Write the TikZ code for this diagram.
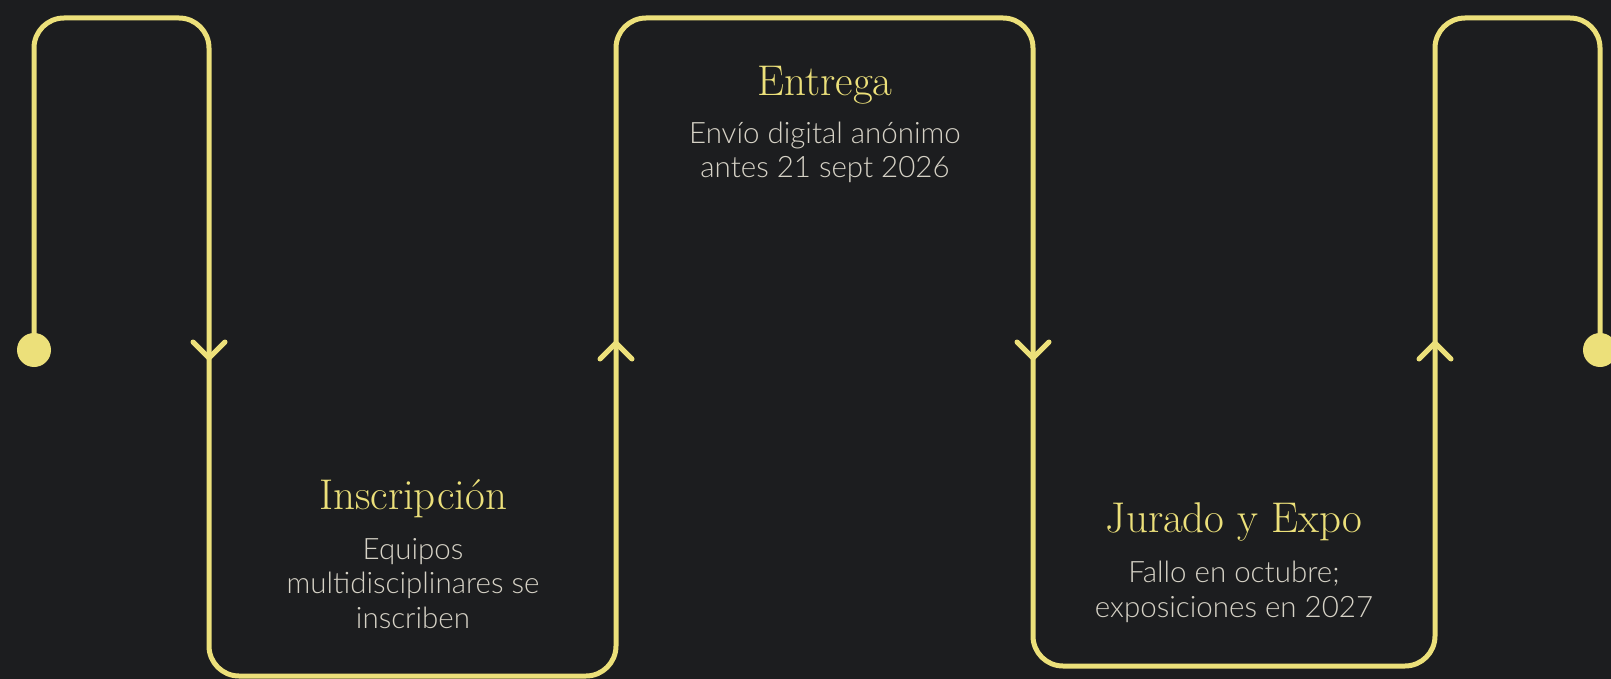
\documentclass[tikz,border=0pt]{standalone}
\usepackage{fontspec}
\newfontfamily\bodyfont{Lato}[UprightFont=* Light]
\usetikzlibrary{calc}
\definecolor{bg}{RGB}{28,29,31}
\definecolor{gold}{RGB}{236,224,122}
\definecolor{txt}{RGB}{214,210,198}
\begin{document}
\begin{tikzpicture}[x=1pt,y=-1pt,
  trail/.style={draw=gold,line width=5pt,rounded corners=30pt},
  chev/.style={draw=gold,line width=5pt,line cap=round,line join=round},
  dot/.style={circle,fill=gold,minimum size=34pt,inner sep=0pt},
  title/.style={text=gold,font=\fontsize{43}{50}\selectfont,anchor=base,inner sep=0pt},
  body/.style={text=txt,font=\bodyfont\fontsize{29.5}{34.5}\selectfont,align=center,anchor=base,inner sep=0pt}]
\fill[bg] (0,0) rectangle (1611,679);
\useasboundingbox (0,0) rectangle (1611,679);
% route corners
\coordinate (c1) at (34,18);
\coordinate (c2) at (209,18);
\coordinate (c3) at (209,676);
\coordinate (c4) at (616,676);
\coordinate (c5) at (616,18);
\coordinate (c6) at (1033,18);
\coordinate (c7) at (1033,666);
\coordinate (c8) at (1435,666);
\coordinate (c9) at (1435,18);
\coordinate (c10) at (1600,18);
\node[dot] (start) at (34,350) {};
\node[dot] (end) at (1600,350) {};
\draw[trail] (start.center) -- (c1) -- (c2) -- (c3) -- (c4) -- (c5) -- (c6) -- (c7) -- (c8) -- (c9) -- (c10) -- (end.center);
% arrow chevrons
\coordinate (a1) at (209,358);
\coordinate (a2) at (616,343);
\coordinate (a3) at (1033,358);
\coordinate (a4) at (1435,343);
\draw[chev] ($(a1)+(-16,-16)$) -- (a1) -- ($(a1)+(16,-16)$);
\draw[chev] ($(a2)+(-16,16)$) -- (a2) -- ($(a2)+(16,16)$);
\draw[chev] ($(a3)+(-16,-16)$) -- (a3) -- ($(a3)+(16,-16)$);
\draw[chev] ($(a4)+(-16,16)$) -- (a4) -- ($(a4)+(16,16)$);
% texts (body nodes anchored at the baseline of their last line)
\node[title] (t1) at (413,509) {Inscripción};
\node[body] (b1) at (413,628) {Equipos\\multidisciplinares se\\inscriben};
\node[title] (t2) at (825,96) {Entrega};
\node[body] (b2) at (825,178) {Envío digital anónimo\\antes 21 sept 2026};
\node[title] (t3) at (1234,532) {Jurado y Expo};
\node[body] (b3) at (1234,617) {Fallo en octubre;\\exposiciones en 2027};
\end{tikzpicture}
\end{document}
